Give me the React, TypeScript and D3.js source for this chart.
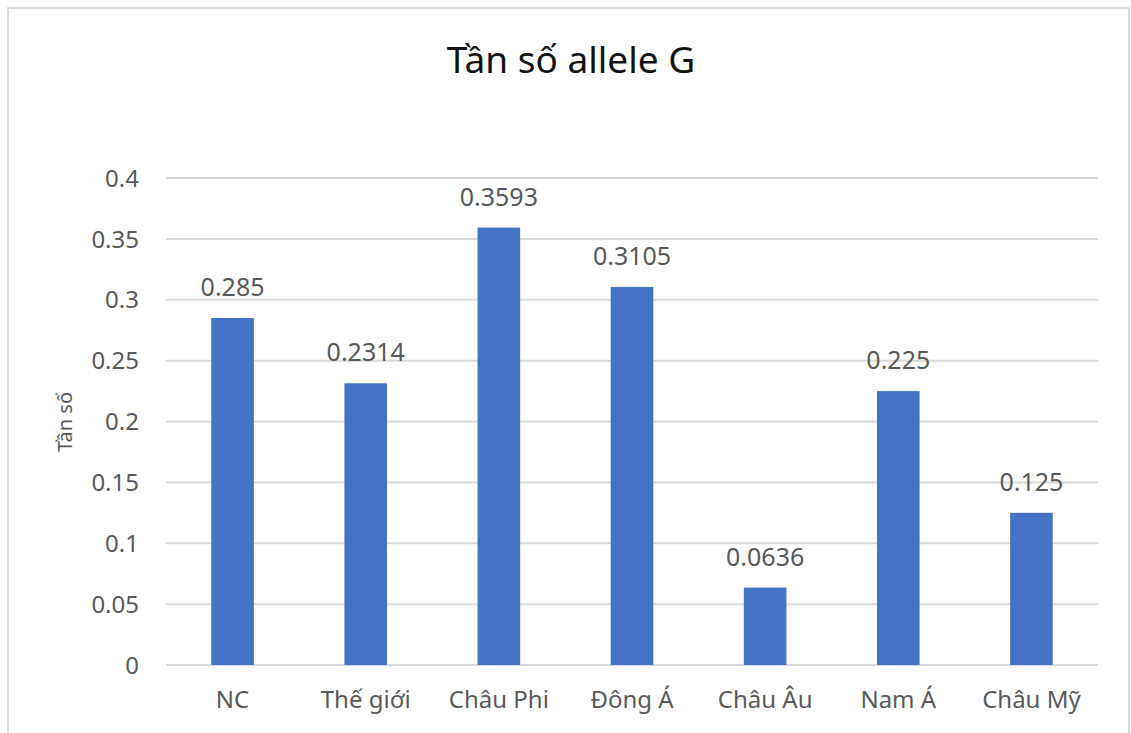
import React from "react";
import * as d3 from "d3";

// Allele G frequency by population group
const categories: string[] = ["NC", "Thế giới", "Châu Phi", "Đông Á", "Châu Âu", "Nam Á", "Châu Mỹ"];
const frequencies: number[] = [0.285, 0.2314, 0.3593, 0.3105, 0.0636, 0.225, 0.125];
const yTicks: number[] = [0, 0.05, 0.1, 0.15, 0.2, 0.25, 0.3, 0.35, 0.4];

const title = "Tần số allele G";
const yTitle = "Tần số";

const W = 1131;
const H = 733;
const FONT = "'Noto Sans', 'Open Sans', sans-serif";

export default function App() {
  const left = 166;
  const right = 1098;
  const top = 178;
  const bottom = 665;

  const x = d3
    .scaleBand<string>()
    .domain(categories)
    .range([left, right])
    .paddingInner(0.68)
    .paddingOuter(0.34);

  const y = d3.scaleLinear().domain([0, 0.4]).range([bottom, top]);

  const fmt = (v: number) => String(+v.toFixed(4));

  return (
    <svg
      width={W}
      height={H}
      style={{ position: "absolute", left: 0, top: 0, background: "#fff" }}
      fontFamily={FONT}
    >
      <rect x={8} y={8} width={1121} height={760} fill="#fff" stroke="#d9d9d9" strokeWidth={2} />

      <text x={571} y={73} textAnchor="middle" fontSize={37} fill="#111">
        {title}
      </text>

      {/* horizontal gridlines and value ticks */}
      {yTicks.map((t) => (
        <g key={t}>
          <line x1={left} x2={right} y1={y(t)} y2={y(t)} stroke="#d9d9d9" strokeWidth={2} />
          <text x={139} y={y(t)} dy="0.36em" textAnchor="end" fontSize={24} fill="#595959">
            {fmt(t)}
          </text>
        </g>
      ))}

      <text
        transform={`translate(72, 422) rotate(-90)`}
        textAnchor="middle"
        fontSize={20}
        fill="#595959"
      >
        {yTitle}
      </text>

      {/* bars with value labels */}
      {categories.map((c, i) => {
        const v = frequencies[i];
        const bx = x(c) as number;
        const bw = x.bandwidth();
        return (
          <g key={c}>
            <rect x={bx} y={y(v)} width={bw} height={y(0) - y(v)} fill="#4472C4" />
            <text
              x={bx + bw / 2}
              y={y(v) - 22}
              textAnchor="middle"
              fontSize={25}
              fill="#595959"
            >
              {fmt(v)}
            </text>
            <text x={bx + bw / 2} y={708} textAnchor="middle" fontSize={24} fill="#595959">
              {c}
            </text>
          </g>
        );
      })}
    </svg>
  );
}
